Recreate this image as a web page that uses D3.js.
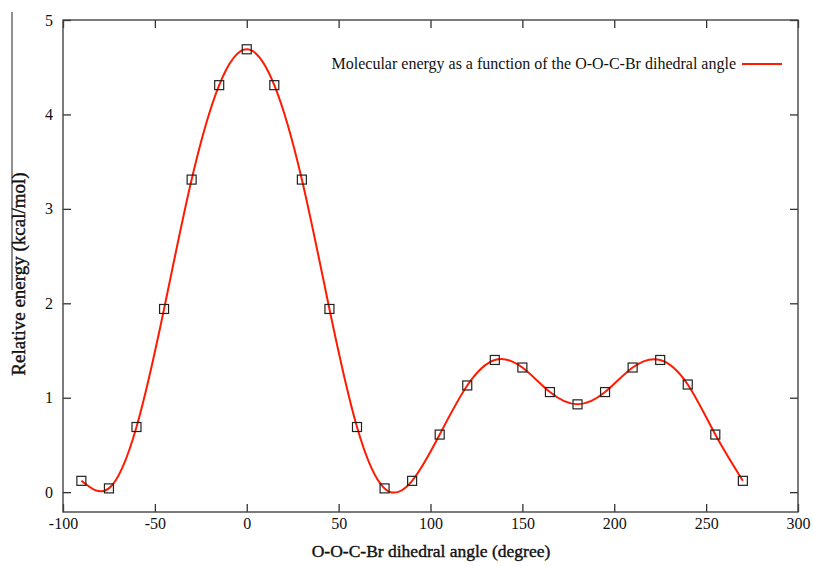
<!DOCTYPE html>
<html>
<head>
<meta charset="utf-8">
<script src="https://cdn.jsdelivr.net/npm/d3@7"></script>
<style>
  body { margin: 0; background: #fff; }
  text { font-family: "Liberation Serif", "DejaVu Serif", serif; fill: #111; }
</style>
</head>
<body>
<div id="chart"></div>
<script>
// dihedral angle (degree) and relative energy (kcal/mol)
var angles = [-90, -75, -60, -45, -30, -15, 0, 15, 30, 45, 60, 75, 90,
  105, 120, 135, 150, 165, 180, 195, 210, 225, 240, 255, 270];
var energies = [0.12, 0.04, 0.69, 1.94, 3.31, 4.31, 4.69, 4.31, 3.31, 1.94, 0.69, 0.04, 0.12,
  0.61, 1.13, 1.40, 1.32, 1.06, 0.93, 1.06, 1.32, 1.40, 1.14, 0.61, 0.12];
var xTicks = [-100, -50, 0, 50, 100, 150, 200, 250, 300];
var yTicks = [0, 1, 2, 3, 4, 5];

var svgWidth = 813;
var svgHeight = 566;
var margin = { top: 20, right: 15, bottom: 54, left: 63 };
var width = svgWidth - margin.left - margin.right;
var height = svgHeight - margin.top - margin.bottom;

var svg = d3.select("#chart").append("svg")
  .attr("width", svgWidth)
  .attr("height", svgHeight);

var chart = svg.append("g")
  .attr("transform", `translate(${margin.left}, ${margin.top})`);

var data = angles.map((a, i) => ({ x: a, y: energies[i] }));

var x = d3.scaleLinear().domain([-100, 300]).range([0, width]);
var y = d3.scaleLinear().domain([-0.21, 5]).range([height, 0]);

// axes, ticks pointing inward, mirrored on top/right
var tickLen = 8;
var fmt = d => String(d);   // plain hyphen for negatives, like gnuplot
function styleAxis(g) {
  g.select(".domain").remove();
  g.selectAll(".tick line").attr("stroke", "#333").attr("stroke-width", 1.3);
  g.selectAll(".tick text")
    .style("font-size", "16px")
    .style("font-family", "Liberation Serif, serif");
}

chart.append("g")
  .attr("transform", `translate(0, ${height})`)
  .call(d3.axisBottom(x).tickValues(xTicks).tickSize(-tickLen).tickPadding(6).tickFormat(fmt))
  .call(styleAxis);

chart.append("g")
  .call(d3.axisTop(x).tickValues(xTicks).tickSize(-tickLen).tickFormat(""))
  .call(styleAxis);

chart.append("g")
  .call(d3.axisLeft(y).tickValues(yTicks).tickSize(-tickLen).tickPadding(10).tickFormat(fmt))
  .call(styleAxis);

chart.append("g")
  .attr("transform", `translate(${width}, 0)`)
  .call(d3.axisRight(y).tickValues(yTicks).tickSize(-tickLen).tickFormat(""))
  .call(styleAxis);

// frame
chart.append("rect")
  .attr("width", width)
  .attr("height", height)
  .attr("fill", "none")
  .attr("stroke", "#444")
  .attr("stroke-width", 1.4);

// smooth curve
var line = d3.line()
  .x(d => x(d.x))
  .y(d => y(d.y))
  .curve(d3.curveNatural);

chart.append("path")
  .datum(data)
  .attr("d", line)
  .attr("fill", "none")
  .attr("stroke", "#ff1a00")
  .attr("stroke-width", 2);

// square markers
chart.selectAll(".pt")
  .data(data)
  .enter()
  .append("rect")
  .attr("class", "pt")
  .attr("x", d => x(d.x) - 4.5)
  .attr("y", d => y(d.y) - 4.5)
  .attr("width", 9)
  .attr("height", 9)
  .attr("fill", "none")
  .attr("stroke", "#222")
  .attr("stroke-width", 1.2);

// legend
chart.append("text")
  .attr("x", 673)
  .attr("y", 49)
  .attr("text-anchor", "end")
  .style("font-size", "16px")
  .text("Molecular energy as a function of the O-O-C-Br dihedral angle");

chart.append("line")
  .attr("x1", 679)
  .attr("x2", 719)
  .attr("y1", 44)
  .attr("y2", 44)
  .attr("stroke", "#ff1a00")
  .attr("stroke-width", 2);

// axis labels (slightly heavier than regular, as in the scan)
svg.append("text")
  .attr("transform", "rotate(-90)")
  .attr("x", -274)
  .attr("y", 25)
  .attr("text-anchor", "middle")
  .style("font-size", "19px")
  .attr("stroke", "#111")
  .attr("stroke-width", 0.4)
  .text("Relative energy (kcal/mol)");

svg.append("line")
  .attr("x1", 12).attr("x2", 12)
  .attr("y1", 12).attr("y2", 290)
  .attr("stroke", "#222")
  .attr("stroke-width", 1);

svg.append("text")
  .attr("x", 431)
  .attr("y", 557)
  .attr("text-anchor", "middle")
  .style("font-size", "17.5px")
  .attr("stroke", "#111")
  .attr("stroke-width", 0.4)
  .text("O-O-C-Br dihedral angle (degree)");
</script>
</body>
</html>
